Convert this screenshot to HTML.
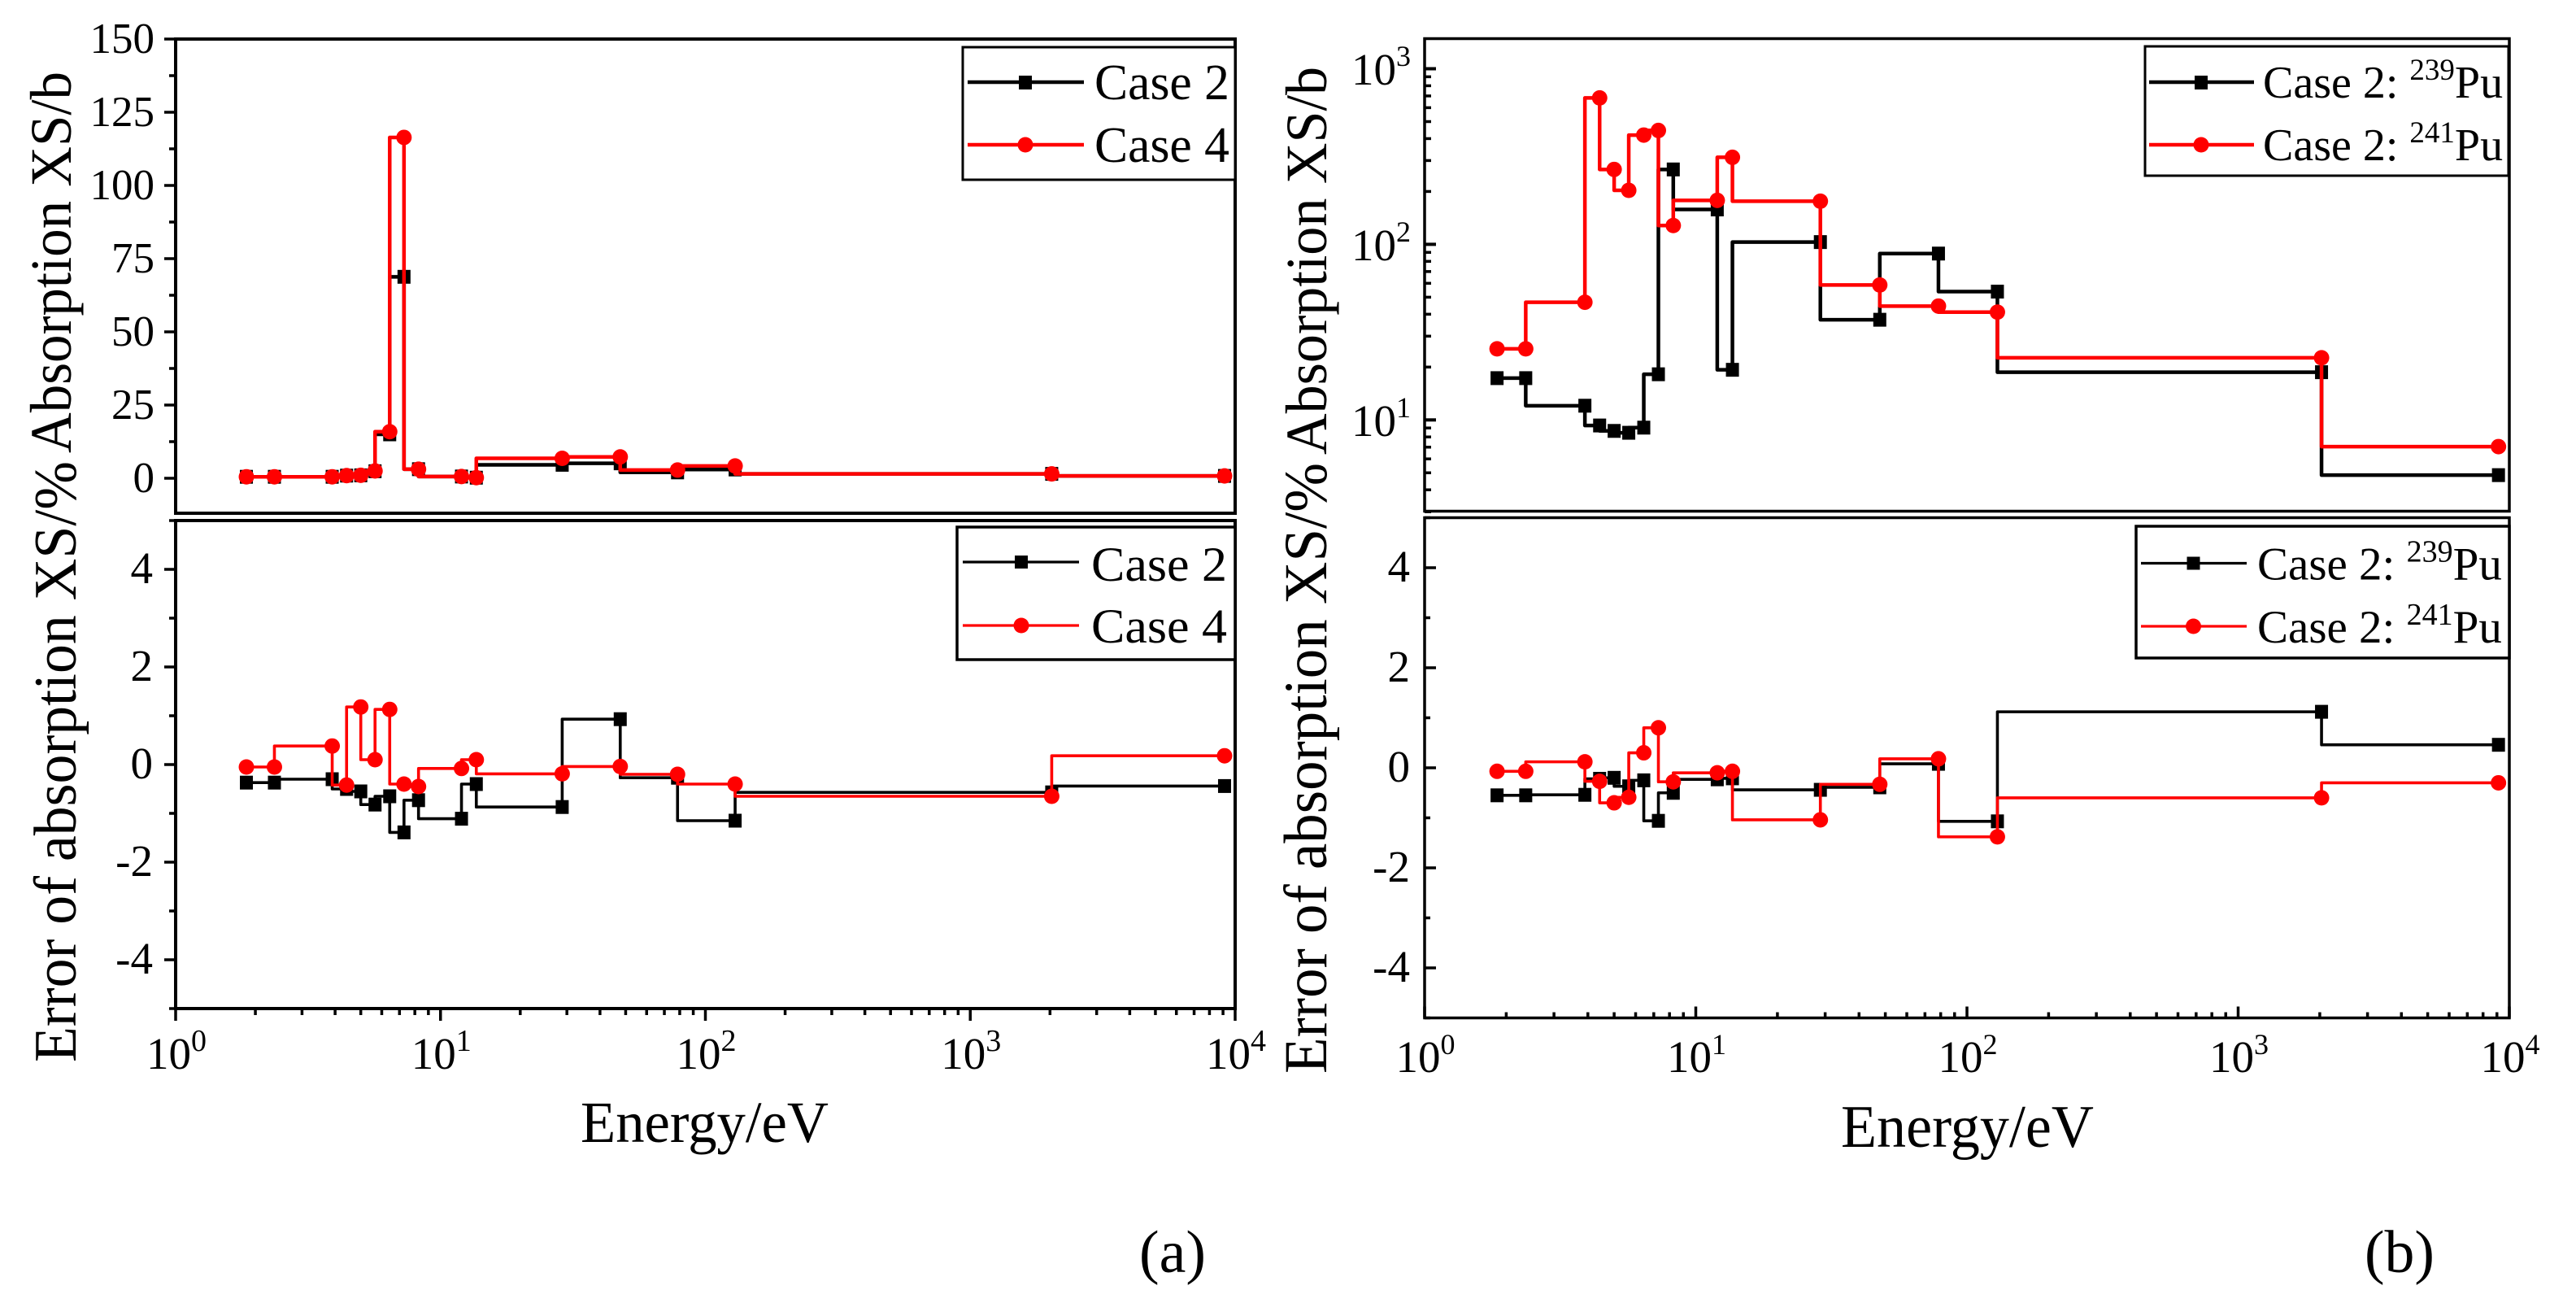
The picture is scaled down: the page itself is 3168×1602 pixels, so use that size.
<!DOCTYPE html>
<html lang="en">
<head>
<meta charset="utf-8">
<title>Absorption cross-section comparison</title>
<style>
html,body{margin:0;padding:0;background:#fff}
svg{display:block}
text{font-family:"Liberation Serif","Times New Roman",serif;fill:#000}
</style>
</head>
<body>
<svg id="figure" xmlns="http://www.w3.org/2000/svg" width="3168" height="1602" viewBox="0 0 3168 1602">
  <rect width="3168" height="1602" fill="#fff"/>
  <g id="panel-a-top"></g>
  <g id="panel-a-bottom"></g>
  <g id="panel-b-top"></g>
  <g id="panel-b-bottom"></g>

  <text transform="translate(93,1306) rotate(-90)" font-size="74" textLength="739" lengthAdjust="spacingAndGlyphs">Error of absorption XS/%</text>
  <text transform="translate(87,557) rotate(-90)" font-size="72" textLength="469" lengthAdjust="spacingAndGlyphs">Absorption XS/b</text>
  <text transform="translate(1631,1320) rotate(-90)" font-size="75" textLength="751" lengthAdjust="spacingAndGlyphs">Error of absorption XS/%</text>
  <text transform="translate(1631,559) rotate(-90)" font-size="72" textLength="477" lengthAdjust="spacingAndGlyphs">Absorption XS/b</text>
  <text x="714" y="1404" font-size="72" textLength="305" lengthAdjust="spacingAndGlyphs">Energy/eV</text>
  <text x="2264" y="1410" font-size="74" textLength="311" lengthAdjust="spacingAndGlyphs">Energy/eV</text>
  <text x="1401" y="1564" font-size="74" textLength="82" lengthAdjust="spacingAndGlyphs">(a)</text>
  <text x="2908" y="1564" font-size="74" textLength="86" lengthAdjust="spacingAndGlyphs">(b)</text>

  <g>
    <rect x="1184" y="58" width="335" height="163" fill="#fff" stroke="#000" stroke-width="3"/>
    <line x1="1190" y1="101" x2="1333" y2="101" stroke="#000" stroke-width="4.5"/>
    <rect x="1253" y="93" width="16" height="17" fill="#000"/>
    <text x="1346" y="122" font-size="62" textLength="166" lengthAdjust="spacingAndGlyphs">Case 2</text>
    <line x1="1190" y1="178" x2="1333" y2="178" stroke="#f00" stroke-width="4.5"/>
    <circle cx="1261" cy="178" r="9.5" fill="#f00"/>
    <text x="1346" y="199" font-size="62" textLength="166" lengthAdjust="spacingAndGlyphs">Case 4</text>
  </g>
  <g>
    <rect x="1177" y="648" width="342" height="163" fill="#fff" stroke="#000" stroke-width="3.5"/>
    <line x1="1184" y1="691" x2="1327" y2="691" stroke="#000" stroke-width="3.2"/>
    <rect x="1248" y="683" width="16" height="16" fill="#000"/>
    <text x="1342" y="714" font-size="60" textLength="167" lengthAdjust="spacingAndGlyphs">Case 2</text>
    <line x1="1184" y1="769" x2="1327" y2="769" stroke="#f00" stroke-width="3.2"/>
    <circle cx="1256" cy="769" r="9.5" fill="#f00"/>
    <text x="1342" y="790" font-size="60" textLength="167" lengthAdjust="spacingAndGlyphs">Case 4</text>
  </g>
  <g>
    <rect x="2638" y="57" width="447" height="159" fill="#fff" stroke="#000" stroke-width="3"/>
    <line x1="2643" y1="101" x2="2772" y2="101" stroke="#000" stroke-width="4.5"/>
    <rect x="2699" y="93" width="16" height="17" fill="#000"/>
    <text x="2783" y="120" font-size="56">Case 2: <tspan font-size="37" dy="-22">239</tspan><tspan dy="22">Pu</tspan></text>
    <line x1="2643" y1="178" x2="2772" y2="178" stroke="#f00" stroke-width="4.5"/>
    <circle cx="2707" cy="178" r="9.5" fill="#f00"/>
    <text x="2783" y="197" font-size="56">Case 2: <tspan font-size="37" dy="-22">241</tspan><tspan dy="22">Pu</tspan></text>
  </g>
  <g>
    <rect x="2627" y="647" width="459" height="162" fill="#fff" stroke="#000" stroke-width="3.5"/>
    <line x1="2633" y1="692.5" x2="2763" y2="692.5" stroke="#000" stroke-width="3.2"/>
    <rect x="2689.5" y="684.5" width="16" height="16" fill="#000"/>
    <text x="2776" y="712.5" font-size="57">Case 2: <tspan font-size="38" dy="-22">239</tspan><tspan dy="22">Pu</tspan></text>
    <line x1="2633" y1="770" x2="2763" y2="770" stroke="#f00" stroke-width="3.2"/>
    <circle cx="2697.5" cy="770" r="9.5" fill="#f00"/>
    <text x="2776" y="790" font-size="57">Case 2: <tspan font-size="38" dy="-22">241</tspan><tspan dy="22">Pu</tspan></text>
  </g>
</svg>

<script>
// ---------- chart data ----------
const energyEv = [1.85, 2.36, 3.9, 4.42, 5.0, 5.66, 6.43, 7.28, 8.26, 12, 13.65, 28.8, 47.7, 78.5, 129.5, 2030, 9120];

const aTopCase2 = [0.5, 0.5, 0.5, 0.9, 1.0, 2.4, 15, 68.8, 3.1, 0.6, 0.2, 4.6, 5.1, 2.0, 3.0, 1.5, 0.8];
const aTopCase4 = [0.5, 0.5, 0.5, 0.9, 1.0, 2.5, 15.9, 116.4, 3.1, 0.6, 0.2, 6.8, 7.3, 2.8, 4.2, 1.5, 0.8];
const aErrCase2 = [-0.37, -0.37, -0.3, -0.5, -0.55, -0.82, -0.65, -1.39, -0.73, -1.11, -0.4, -0.87, 0.93, -0.27, -1.15, -0.57, -0.44];
const aErrCase4 = [-0.05, -0.05, 0.38, -0.42, 1.18, 0.1, 1.13, -0.4, -0.45, -0.08, 0.1, -0.19, -0.04, -0.2, -0.4, -0.65, 0.18];

const bTopPu239 = [17.3, 17.3, 12.05, 9.3, 8.66, 8.45, 9.04, 18.2, 267, 158, 19.3, 103, 37.2, 88.6, 53.8, 18.7, 4.85];
const bTopPu241 = [25.4, 25.4, 46.8, 682, 267, 203, 419, 445, 128, 178, 313, 176, 58.7, 44.5, 41.1, 22.6, 7.05];
const bErrPu239 = [-0.55, -0.55, -0.54, -0.22, -0.2, -0.37, -0.25, -1.06, -0.5, -0.23, -0.21, -0.44, -0.39, 0.08, -1.07, 1.12, 0.46];
const bErrPu241 = [-0.07, -0.07, 0.12, -0.27, -0.7, -0.59, 0.3, 0.8, -0.28, -0.1, -0.07, -1.04, -0.33, 0.18, -1.38, -0.6, -0.3];

const xDecadeExponents = [0, 1, 2, 3, 4];
const xMinorFactors = [2, 3, 4, 5, 6, 7, 8, 9];
const aTopYTickValues = [0, 25, 50, 75, 100, 125, 150];
const aTopYTickLabels = ['0', '25', '50', '75', '100', '125', '150'];
const aTopYMinorValues = [12.5, 37.5, 62.5, 87.5, 112.5, 137.5];
const errYTickValues = [-4, -2, 0, 2, 4];
const errYTickLabels = ['-4', '-2', '0', '2', '4'];
const errYMinorValues = [-5, -3, -1, 1, 3, 5];
const bTopYDecadeExponents = [1, 2, 3];
const bTopYMinorValues = [3, 4, 5, 6, 7, 8, 9, 20, 30, 40, 50, 60, 70, 80, 90, 200, 300, 400, 500, 600, 700, 800, 900];

// ---------- helpers ----------
const SVG_NS = 'http://www.w3.org/2000/svg';
function add(parent, tag, attrs) {
  const el = document.createElementNS(SVG_NS, tag);
  for (const k in attrs) el.setAttribute(k, attrs[k]);
  parent.appendChild(el);
  return el;
}
function linearScale(d0, d1, p0, p1) {
  return v => p0 + (v - d0) * (p1 - p0) / (d1 - d0);
}
function logScale(d0, d1, p0, p1) {
  return v => p0 + (Math.log10(v) - Math.log10(d0)) * (p1 - p0) / (Math.log10(d1) - Math.log10(d0));
}

function drawFrame(g, L, T, R, B, sw) {
  const frame = add(g, 'rect', {x: L, y: T, width: R - L, height: B - T, fill: 'none', stroke: '#000', 'stroke-width': sw});
  
  
}
function drawTick(g, x1, y1, x2, y2, sw, name) {
  const t = add(g, 'line', {x1: x1, y1: y1, x2: x2, y2: y2, stroke: '#000', 'stroke-width': sw});
  
  
}
function drawXAxis(g, xs, yBase, dir, majorLen, minorLen, withLabels, labelBaseline, supSize) {
  xDecadeExponents.forEach((exp, i) => {
    const major = Math.pow(10, exp);
    const x = xs(major);
    drawTick(g, x, yBase, x, yBase + dir * majorLen, 3.5, 'x-major-tick');
    if (withLabels) {
      const label = add(g, 'text', {x: x + 1, y: labelBaseline, 'font-size': 55, 'text-anchor': 'middle'});
      
      
      label.appendChild(document.createTextNode('10'));
      const sup = add(label, 'tspan', {'font-size': supSize, dy: -22});
      sup.textContent = String(exp);
    }
    if (i < xDecadeExponents.length - 1) {
      xMinorFactors.forEach(f => {
        const xm = xs(f * major);
        drawTick(g, xm, yBase, xm, yBase + dir * minorLen, 3.5, 'x-minor-tick');
      });
    }
  });
}
function drawYLinearTicks(g, ys, xAxis, dir, majorLen, minorLen, values, labels, minors, labelRight, fontSize, baseOffset) {
  values.forEach((v, i) => {
    const y = ys(v);
    drawTick(g, xAxis, y, xAxis + dir * majorLen, y, 3.5, 'y-major-tick');
    const label = add(g, 'text', {x: labelRight, y: y + baseOffset, 'font-size': fontSize, 'text-anchor': 'end'});
    
    
    label.textContent = labels[i];
  });
  minors.forEach(v => {
    const y = ys(v);
    drawTick(g, xAxis, y, xAxis + dir * minorLen, y, 3.5, 'y-minor-tick');
  });
}
function drawSteps(g, xs, ys, values, color, lineWidth, marker, seriesName) {
  let d = 'M' + xs(energyEv[0]) + ' ' + ys(values[0]);
  for (let i = 1; i < values.length; i++) {
    d += 'V' + ys(values[i]) + 'H' + xs(energyEv[i]);
  }
  const path = add(g, 'path', {d: d, fill: 'none', stroke: color, 'stroke-width': lineWidth, 'stroke-linejoin': 'round'});
  
  
  values.forEach((v, i) => {
    const cx = xs(energyEv[i]);
    const cy = ys(v);
    let m;
    if (marker === 'square') {
      m = add(g, 'rect', {x: cx - 8, y: cy - 8.5, width: 16, height: 17, fill: color});
    } else {
      m = add(g, 'circle', {cx: cx, cy: cy, r: 9.5, fill: color});
    }
    
    
  });
}

// ---------- panel (a), absorption ----------
(function () {
  const g = document.getElementById('panel-a-top');
  const xs = logScale(1, 10000, 216, 1519);
  const ys = linearScale(0, 150, 588, 48);
  drawFrame(g, 216, 48, 1519, 631, 4);
  drawYLinearTicks(g, ys, 216, -1, 14, 8, aTopYTickValues, aTopYTickLabels, aTopYMinorValues, 190, 53, 17);
  drawSteps(g, xs, ys, aTopCase2, '#000', 4.5, 'square', 'case-2');
  drawSteps(g, xs, ys, aTopCase4, '#f00', 4.5, 'circle', 'case-4');
})();

// ---------- panel (a), error ----------
(function () {
  const g = document.getElementById('panel-a-bottom');
  const xs = logScale(1, 10000, 216, 1519);
  const ys = linearScale(-5, 5, 1240, 640);
  drawFrame(g, 216, 640, 1519, 1240, 4);
  drawYLinearTicks(g, ys, 216, -1, 14, 8, errYTickValues, errYTickLabels, errYMinorValues, 188, 55, 17);
  drawXAxis(g, xs, 1240, 1, 15, 8, true, 1314, 38);
  drawSteps(g, xs, ys, aErrCase2, '#000', 3.6, 'square', 'case-2');
  drawSteps(g, xs, ys, aErrCase4, '#f00', 3.6, 'circle', 'case-4');
})();

// ---------- panel (b), absorption ----------
(function () {
  const g = document.getElementById('panel-b-top');
  const xs = logScale(1, 10000, 1752, 3086);
  const ys = logScale(10, 1000, 516.3, 84.5);
  drawFrame(g, 1752, 47.5, 3086, 628.5, 3.5);
  bTopYDecadeExponents.forEach(exp => {
    const y = ys(Math.pow(10, exp));
    drawTick(g, 1752, y, 1766, y, 4, 'y-major-tick');
    const label = add(g, 'text', {x: 1735, y: y + 19.5, 'font-size': 55, 'text-anchor': 'end'});
    
    
    label.appendChild(document.createTextNode('10'));
    const sup = add(label, 'tspan', {'font-size': 36, dy: -23});
    sup.textContent = String(exp);
  });
  bTopYMinorValues.forEach(v => {
    const y = ys(v);
    drawTick(g, 1752, y, 1760, y, 3.5, 'y-minor-tick');
  });
  drawSteps(g, xs, ys, bTopPu239, '#000', 4.5, 'square', 'pu-239');
  drawSteps(g, xs, ys, bTopPu241, '#f00', 4.5, 'circle', 'pu-241');
})();

// ---------- panel (b), error ----------
(function () {
  const g = document.getElementById('panel-b-bottom');
  const xs = logScale(1, 10000, 1752, 3086);
  const ys = linearScale(-5, 5, 1251.5, 636.5);
  drawFrame(g, 1752, 636.5, 3086, 1251.5, 3.5);
  drawYLinearTicks(g, ys, 1752, 1, 14, 7, errYTickValues, errYTickLabels, errYMinorValues, 1734, 55, 17);
  drawXAxis(g, xs, 1251.5, -1, 14, 7, true, 1318, 36);
  drawSteps(g, xs, ys, bErrPu239, '#000', 3.6, 'square', 'pu-239');
  drawSteps(g, xs, ys, bErrPu241, '#f00', 3.6, 'circle', 'pu-241');
})();
</script>
</body>
</html>
